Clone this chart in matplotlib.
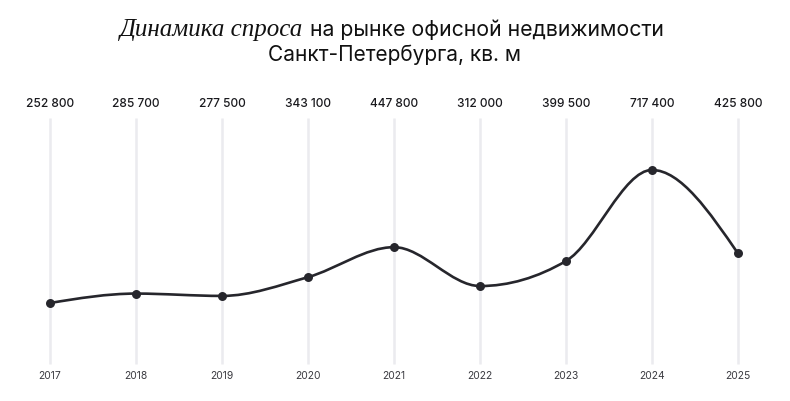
import matplotlib
matplotlib.use("Agg")
import matplotlib.pyplot as plt
import numpy as np
from matplotlib.path import Path
from matplotlib.patches import PathPatch
import matplotlib.transforms as mtransforms

years = [2017, 2018, 2019, 2020, 2021, 2022, 2023, 2024, 2025]
demand = [252800, 285700, 277500, 343100, 447800, 312000, 399500, 717400, 425800]
value_labels = ["252 800", "285 700", "277 500", "343 100", "447 800",
                "312 000", "399 500", "717 400", "425 800"]

title_italic = "Динамика спроса"
title_rest = " на рынке офисной недвижимости"
title_line2 = "Санкт-Петербурга, кв. м"

LINE = "#26262c"
GRID = "#ebebef"
SANS = ["Inter", "DejaVu Sans"]


def monotone_path(x, y):
    # monotone cubic (like d3.curveMonotoneX) as bezier segments
    x = np.asarray(x, float)
    y = np.asarray(y, float)
    n = len(x)
    h = np.diff(x)
    s = np.diff(y) / h
    t = np.zeros(n)
    for i in range(1, n - 1):
        p = (s[i - 1] * h[i] + s[i] * h[i - 1]) / (h[i - 1] + h[i])
        t[i] = (np.sign(s[i - 1]) + np.sign(s[i])) * min(abs(s[i - 1]), abs(s[i]), 0.5 * abs(p))
    t[0] = (3 * s[0] - t[1]) / 2
    t[-1] = (3 * s[-1] - t[-2]) / 2
    verts = [(x[0], y[0])]
    codes = [Path.MOVETO]
    for i in range(n - 1):
        dx = h[i] / 3
        verts += [(x[i] + dx, y[i] + dx * t[i]),
                  (x[i + 1] - dx, y[i + 1] - dx * t[i + 1]),
                  (x[i + 1], y[i + 1])]
        codes += [Path.CURVE4] * 3
    return Path(verts, codes)


fig = plt.figure(figsize=(7.9, 4.01), dpi=100)
ax = fig.add_axes([0, 0, 1, 1])
ax.set_axis_off()

# pixel mapping: 2017 -> x=50, step 86px; value scale from reference
ax.set_xlim(2017 - 50 / 86, 2017 + 740 / 86)
ax.set_ylim(-89500, 1311100)

ax.vlines(years, 39700, 899000, color=GRID, lw=1.8, zorder=1)

ax.add_patch(PathPatch(monotone_path(years, demand), facecolor="none",
                       edgecolor=LINE, lw=1.9, zorder=3, capstyle="round"))
ax.scatter(years, demand, s=42, color=LINE, zorder=4, linewidths=0)

trans = mtransforms.blended_transform_factory(ax.transData, fig.transFigure)
for yr, lab in zip(years, value_labels):
    ax.text(yr, 1 - 104 / 401, lab, transform=trans, ha="center", va="center",
            fontsize=8.6, color="#1a1a1e", family=SANS, fontweight="medium")
    ax.text(yr, 1 - 376 / 401, str(yr), transform=trans, ha="center", va="center",
            fontsize=7.4, color="#3a3a40", family=SANS)

# title: italic serif part + sans part, centred together
fig.canvas.draw()
r = fig.canvas.get_renderer()
t1 = fig.text(0, 1 - 30 / 401, title_italic, fontsize=18, style="italic",
              family=["Liberation Serif", "DejaVu Serif"], color="#111111", va="center")
t2 = fig.text(0, 1 - 30 / 401, title_rest, fontsize=15.3, family=SANS,
              color="#111111", va="center")
w1 = t1.get_window_extent(r).width
w2 = t2.get_window_extent(r).width
x0 = (790 / 2 - 3) - (w1 + w2) / 2
t1.set_x(x0 / 790)
t2.set_x((x0 + w1) / 790)
fig.text(0.5, 1 - 55 / 401, title_line2, fontsize=15, family=SANS,
         color="#111111", ha="center", va="center")

fig.savefig("out.png", dpi=100, facecolor="white")
